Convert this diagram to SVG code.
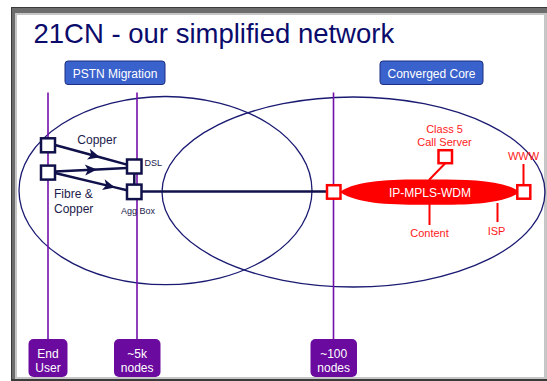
<svg xmlns="http://www.w3.org/2000/svg" width="547" height="381" viewBox="0 0 547 381">
<defs>
<style>
.t{font-family:"Liberation Sans",Arial,sans-serif}
.ell{fill:none;stroke:#1a1a72;stroke-width:1.3}
.vl{stroke:#7410aa;stroke-width:1.6;fill:none}
.con{stroke:#10104a;stroke-width:2.5;fill:none}
.nd{fill:#fff;stroke:#10104a;stroke-width:2.5}
.rn{fill:#fff;stroke:#ff0000;stroke-width:2.5}
.rl{stroke:#ff0000;stroke-width:2;fill:none}
.rt{fill:#ff1a1a;font-size:11px;text-anchor:middle}
.dk{fill:#1c1c4c}
.btn{fill:#3a62cc;stroke:#1e2e80;stroke-width:1}
.pb{fill:#6a0a9e}
.wt{fill:#fff;font-size:12px;text-anchor:middle}
</style>
<marker id="ah" viewBox="-13 -6 14 12" refX="0" refY="0" markerWidth="14" markerHeight="12" markerUnits="userSpaceOnUse" orient="auto">
<path d="M0,0 L-12,-5.5 L-9,0 L-12,5.5 Z" fill="#10104a"/>
</marker>
</defs>
<g id="frame">
<rect x="11" y="7" width="536" height="374" fill="#3a3a3a"/>
<rect x="12" y="8" width="535" height="371" fill="#6d6d6d"/>
<rect x="15" y="13" width="532" height="366" fill="#c6c6c6"/>
<rect x="17" y="15" width="527" height="362" fill="#ffffff"/>
</g>
<text id="title" class="t" x="33.5" y="43" font-size="27.5" fill="#0b0b6b">21CN - our simplified network</text>
<g id="pstn-migration">
<rect class="btn" x="65" y="61" width="100" height="23.5" rx="3"/>
<text class="t wt" x="115" y="77.5">PSTN Migration</text>
</g>
<g id="converged-core">
<rect class="btn" x="380" y="61" width="103" height="23.5" rx="3"/>
<text class="t wt" x="431.5" y="77.5">Converged Core</text>
</g>
<g id="regions">
<ellipse class="ell" cx="165.5" cy="190.6" rx="146.5" ry="94.1"/>
<ellipse class="ell" cx="353.5" cy="192" rx="191.5" ry="95"/>
</g>
<g id="connectors">
<line class="vl" x1="48" y1="92.5" x2="48" y2="340"/>
<line class="vl" x1="137" y1="92.5" x2="137" y2="340"/>
<line class="vl" x1="333.5" y1="92.5" x2="333.5" y2="340"/>
<path class="con" d="M55,145 L100,157.3 L127,164.6" marker-mid="url(#ah)"/>
<path class="con" d="M55,171.5 L97,169.4 L127,168" marker-mid="url(#ah)"/>
<path class="con" d="M55,173 L115,187.4 L127,190.3" marker-mid="url(#ah)"/>
<line class="con" x1="134.3" y1="173" x2="134.3" y2="185"/>
<line class="con" x1="142" y1="191.6" x2="327" y2="191.6"/>
<line class="rl" x1="445" y1="163.5" x2="429" y2="180"/>
<line class="rl" x1="429.5" y1="204" x2="429.5" y2="225"/>
<line class="rl" x1="497.5" y1="203" x2="497.5" y2="222"/>
<line class="rl" x1="523.5" y1="164" x2="523.5" y2="186"/>
</g>
<g id="ip-mpls-wdm">
<path d="M340,192 C358,179 398,179.5 430,179.5 C462,179.5 502,179 520,192 C502,205 462,204.8 430,204.8 C398,204.8 358,205 340,192 Z" fill="#ff0000"/>
<text class="t" x="430" y="196.8" font-size="12" fill="#fff" text-anchor="middle">IP-MPLS-WDM</text>
</g>
<g id="node-copper-src"><rect class="nd" x="41" y="138.3" width="14" height="14"/></g>
<g id="node-fibre-src"><rect class="nd" x="41" y="165.6" width="14" height="14"/></g>
<g id="node-dsl"><rect class="nd" x="127" y="159.5" width="14.5" height="14"/>
<text class="t dk" x="144.5" y="165.7" font-size="9">DSL</text></g>
<g id="node-agg"><rect class="nd" x="127" y="184.6" width="14.5" height="14.5"/>
<text class="t dk" x="138" y="213.5" font-size="9" text-anchor="middle">Agg Box</text></g>
<g id="label-copper"><text class="t dk" x="77.3" y="144.3" font-size="12">Copper</text></g>
<g id="label-fibre"><text class="t dk" x="54" y="197.7" font-size="12">Fibre &amp;</text>
<text class="t dk" x="54" y="212.7" font-size="12">Copper</text></g>
<g id="node-core-edge"><rect class="rn" x="327" y="185.2" width="13.5" height="13.5"/></g>
<g id="node-www"><rect class="rn" x="517.3" y="185.2" width="13" height="13.5"/>
<text class="t rt" x="523.5" y="159.5">WWW</text></g>
<g id="node-call-server"><rect class="rn" x="438.5" y="150.2" width="13.5" height="13"/>
<text class="t rt" x="444.5" y="132.8">Class 5</text>
<text class="t rt" x="444.5" y="145.8">Call Server</text></g>
<g id="label-content"><text class="t rt" x="429.5" y="237.3">Content</text></g>
<g id="label-isp"><text class="t rt" x="496.5" y="235">ISP</text></g>
<g id="end-user">
<rect class="pb" x="28.5" y="339" width="39" height="38" rx="5"/>
<text class="t wt" x="48" y="357.6">End</text>
<text class="t wt" x="48" y="372.2">User</text>
</g>
<g id="nodes-5k">
<rect class="pb" x="114" y="339" width="46.5" height="38" rx="5"/>
<text class="t wt" x="137.2" y="357.6">~5k</text>
<text class="t wt" x="137.2" y="372.2">nodes</text>
</g>
<g id="nodes-100">
<rect class="pb" x="310.5" y="339" width="46.5" height="38" rx="5"/>
<text class="t wt" x="333.7" y="357.6">~100</text>
<text class="t wt" x="333.7" y="372.2">nodes</text>
</g>
</svg>
